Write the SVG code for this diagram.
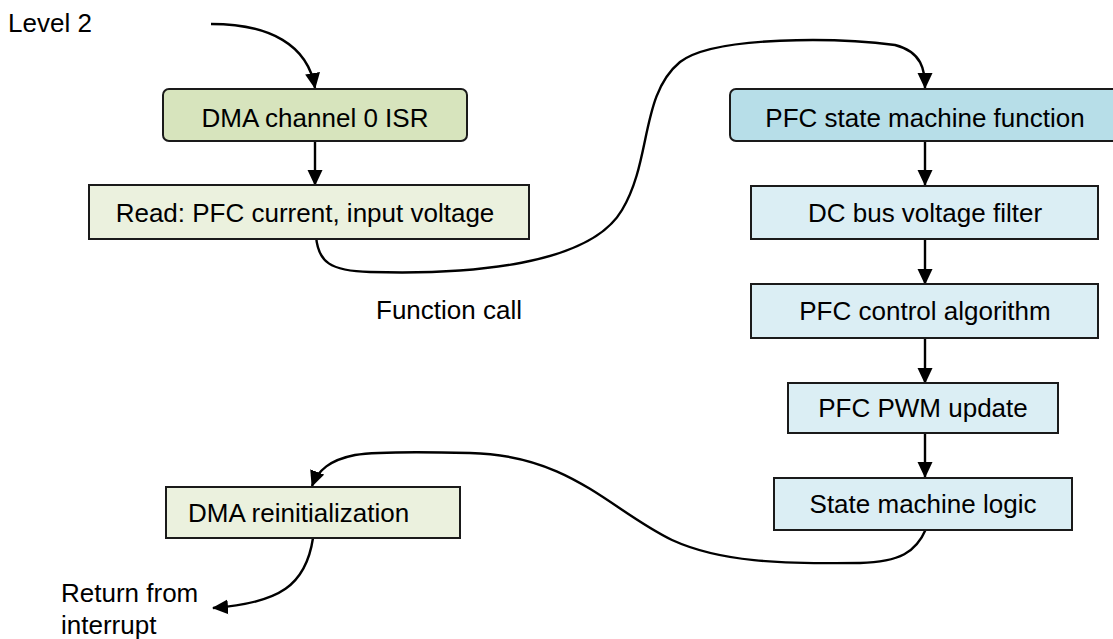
<svg xmlns="http://www.w3.org/2000/svg" width="1113" height="639" viewBox="0 0 1113 639">
<style>
text{font-family:"Liberation Sans",Arial,sans-serif;font-size:26px;fill:#000}
.box{stroke:#1a1a1a;stroke-width:2}
.g1{fill:#d7e4bd}
.g2{fill:#ebf1de}
.b1{fill:#b7dee8}
.b2{fill:#dbeef4}
.c{fill:none;stroke:#000;stroke-width:2.4}
.mid{text-anchor:middle}
</style>
<defs>
<marker id="ah" markerWidth="16" markerHeight="16" viewBox="0 0 16 16" refX="15" refY="8" orient="auto" markerUnits="userSpaceOnUse">
<path d="M0,0.5 L16,8 L0,15.5 z" fill="#000"/>
</marker>
</defs>
<rect width="1113" height="639" fill="#fff"/>
<g id="connectors">
<path class="c" marker-end="url(#ah)" d="M211,24 C270,24 308,45 315,88"/>
<path class="c" marker-end="url(#ah)" d="M315,141 L315,185"/>
<path class="c" marker-end="url(#ah)" d="M316,236 C318,262 330,271 370,272 C470,275 590,265 622,210 C652,160 640,95 680,62 C715,35 840,38 895,45 C922,52 925,70 925,88"/>
<path class="c" marker-end="url(#ah)" d="M925,141 L925,185"/>
<path class="c" marker-end="url(#ah)" d="M925,239 L925,284"/>
<path class="c" marker-end="url(#ah)" d="M925,338 L925,383"/>
<path class="c" marker-end="url(#ah)" d="M925,433 L925,477"/>
<path class="c" marker-end="url(#ah)" d="M926,529 C916,552 900,562 860,563 C780,564 720,562 672,540 C610,510 570,455 470,453 C430,452 380,451 355,455 C330,460 318,470 312,486"/>
<path class="c" marker-end="url(#ah)" d="M313,538 C306,585 280,603 213,608"/>
</g>
<g id="level2"><text x="8" y="32">Level 2</text></g>
<g id="dma-isr">
<rect class="box g1" x="163" y="89" width="304" height="52" rx="6"/>
<text class="mid" x="315" y="127">DMA channel 0 ISR</text>
</g>
<g id="read">
<rect class="box g2" x="89" y="185" width="440" height="54"/>
<text class="mid" x="305" y="222">Read: PFC current, input voltage</text>
</g>
<g id="pfc-sm">
<rect class="box b1" x="730" y="89" width="395" height="52" rx="6"/>
<text class="mid" x="925" y="127">PFC state machine function</text>
</g>
<g id="dc-bus">
<rect class="box b2" x="751" y="186" width="347" height="53"/>
<text class="mid" x="925" y="222">DC bus voltage filter</text>
</g>
<g id="pfc-ctrl">
<rect class="box b2" x="751" y="284" width="347" height="54"/>
<text class="mid" x="925" y="320">PFC control algorithm</text>
</g>
<g id="pwm">
<rect class="box b2" x="788" y="383" width="270" height="50"/>
<text class="mid" x="923" y="417">PFC PWM update</text>
</g>
<g id="sm-logic">
<rect class="box b2" x="774" y="478" width="298" height="52"/>
<text class="mid" x="923" y="513">State machine logic</text>
</g>
<g id="dma-reinit">
<rect class="box g2" x="166" y="487" width="294" height="51"/>
<text x="188" y="522">DMA reinitialization</text>
</g>
<g id="func-call"><text x="376" y="319">Function call</text></g>
<g id="return"><text x="61" y="602">Return from</text><text x="61" y="634">interrupt</text></g>
</svg>
